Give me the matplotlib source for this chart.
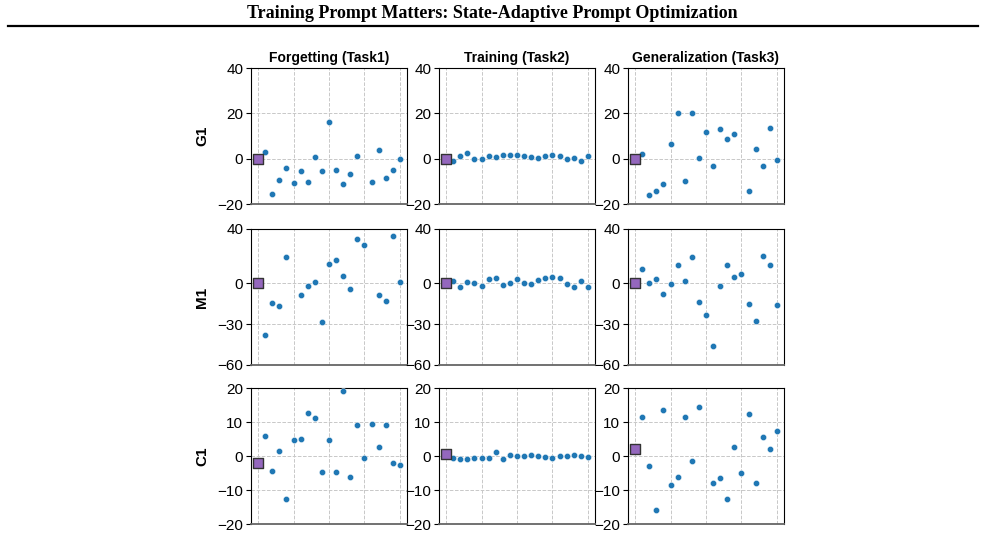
import matplotlib.pyplot as plt
import numpy as np
from matplotlib.lines import Line2D

plt.rcParams['font.family'] = ['Liberation Sans', 'DejaVu Sans']

nan = np.nan
steps = np.arange(0, 21)

col_titles = ['Forgetting (Task1)', 'Training (Task2)', 'Generalization (Task3)']
row_labels = ['G1', 'M1', 'C1']

# baseline value (square at step 0) per row/col
baseline = [[0.0, 0.0, 0.0],
            [0.0, 0.0, 0.0],
            [-2.1, 0.5, 2.0]]

g1_forget = [2.8, -15.6, -9.2, -4.0, -10.7, -5.6, -10.1, 0.7, -5.6, 16.1,
             -5.2, -11.0, -6.7, 1.2, nan, -10.2, 3.9, -8.5, -5.0, 0.0]
g1_train = [-0.9, 1.3, 2.4, -0.1, 0.0, 1.0, 0.9, 1.6, 1.6, 1.6,
            1.0, 0.6, 0.4, 1.0, 1.5, 1.0, 0.0, 0.4, -1.2, 1.2]
g1_gen = [2.2, -16.1, -14.4, -11.0, 6.5, 20.3, -9.9, 20.3, 0.3, 11.6,
          -3.3, 13.2, 8.7, 10.7, nan, -14.2, 4.3, -3.3, 13.5, -0.7]

m1_forget = [-38.0, -14.6, -16.4, 19.4, nan, -8.2, -1.7, 0.7, -28.3, 14.1,
             17.1, 5.2, -4.2, 32.5, 28.5, nan, -8.2, -13.2, 34.5, 1.0]
m1_train = [1.7, -2.7, 1.0, 0.0, -1.7, 3.5, 4.0, -1.5, 0.2, 3.5,
            0.0, -0.2, 2.2, 3.7, 4.7, 3.7, -0.5, -3.0, 1.5, -2.5]
m1_gen = [10.7, 0.0, 3.5, -7.7, -0.5, 13.4, 1.5, 19.1, -13.6, -23.6,
          -45.9, -1.7, 13.6, 4.7, 7.2, -14.9, -27.5, 20.1, 13.4, -15.9]

c1_forget = [5.8, -4.5, 1.4, -12.7, 4.7, 5.0, 12.7, 11.3, -4.7, 4.8,
             -4.7, 19.1, -6.2, 9.0, -0.7, 9.4, 2.7, 9.0, -2.0, -2.6]
c1_train = [-0.7, -0.9, -0.9, -0.5, -0.7, -0.5, 1.2, -1.0, 0.2, 0.0,
            -0.1, 0.4, 0.0, -0.4, -0.5, -0.1, -0.1, 0.4, -0.1, -0.3]
c1_gen = [11.4, -2.9, -15.8, 13.5, -8.4, -6.1, 11.4, -1.5, 14.4, nan,
          -7.8, -6.4, -12.7, 2.6, -5.0, 12.5, -8.0, 5.7, 2.0, 7.3]

series = [[g1_forget, g1_train, g1_gen],
          [m1_forget, m1_train, m1_gen],
          [c1_forget, c1_train, c1_gen]]

ylims = [(-20, 40), (-60, 40), (-20, 20)]
yticks = [[-20, 0, 20, 40], [-60, -30, 0, 40], [-20, -10, 0, 10, 20]]

fig = plt.figure(figsize=(9.85, 5.35), dpi=100)
W, H = 985, 535
lefts = [251, 439, 628]
tops = [68, 229, 388]
aw, ah = 156, 136

for r in range(3):
    for c in range(3):
        ax = fig.add_axes([lefts[c] / W, 1 - (tops[r] + ah) / H, aw / W, ah / H])
        ax.scatter(steps[1:], series[r][c], s=20, color='#1f77b4',
                   edgecolors='white', linewidths=0.3, zorder=3)
        ax.scatter([0], [baseline[r][c]], marker='s', s=50, color='#9467bd',
                   edgecolors='#333333', linewidths=1.0, zorder=4)
        ax.set_xlim(-1, 21)
        ax.set_ylim(*ylims[r])
        ax.set_xticks([0, 5, 10, 15, 20])
        ax.set_xticklabels([])
        ax.tick_params(axis='x', length=0)
        ax.set_yticks(yticks[r])
        ax.set_yticklabels([str(t).replace('-', '\u2212') for t in yticks[r]])
        ax.tick_params(axis='y', labelsize=11, length=3.5, width=0.8, pad=2)
        ax.grid(True, linestyle='--', color='#c8c8c8', linewidth=0.7)
        ax.set_axisbelow(True)
        ax.spines['bottom'].set_color('#666666')
        ax.spines['bottom'].set_linewidth(1.3)
        if r == 0:
            ax.set_title(col_titles[c], fontsize=10, fontweight='bold', pad=4)
        if c == 0:
            ax.set_ylabel(row_labels[r], fontsize=11, fontweight='bold', labelpad=6)

fig.text(0.5, 1 - 14 / H, 'Training Prompt Matters: State-Adaptive Prompt Optimization',
         ha='center', va='center', fontsize=13, fontweight='bold',
         family=['Liberation Serif', 'DejaVu Serif'])
fig.add_artist(Line2D([8 / W, 978 / W], [1 - 26 / H, 1 - 26 / H],
                      color='black', linewidth=1.6, transform=fig.transFigure))

plt.savefig('out.png', dpi=100, facecolor='white')
